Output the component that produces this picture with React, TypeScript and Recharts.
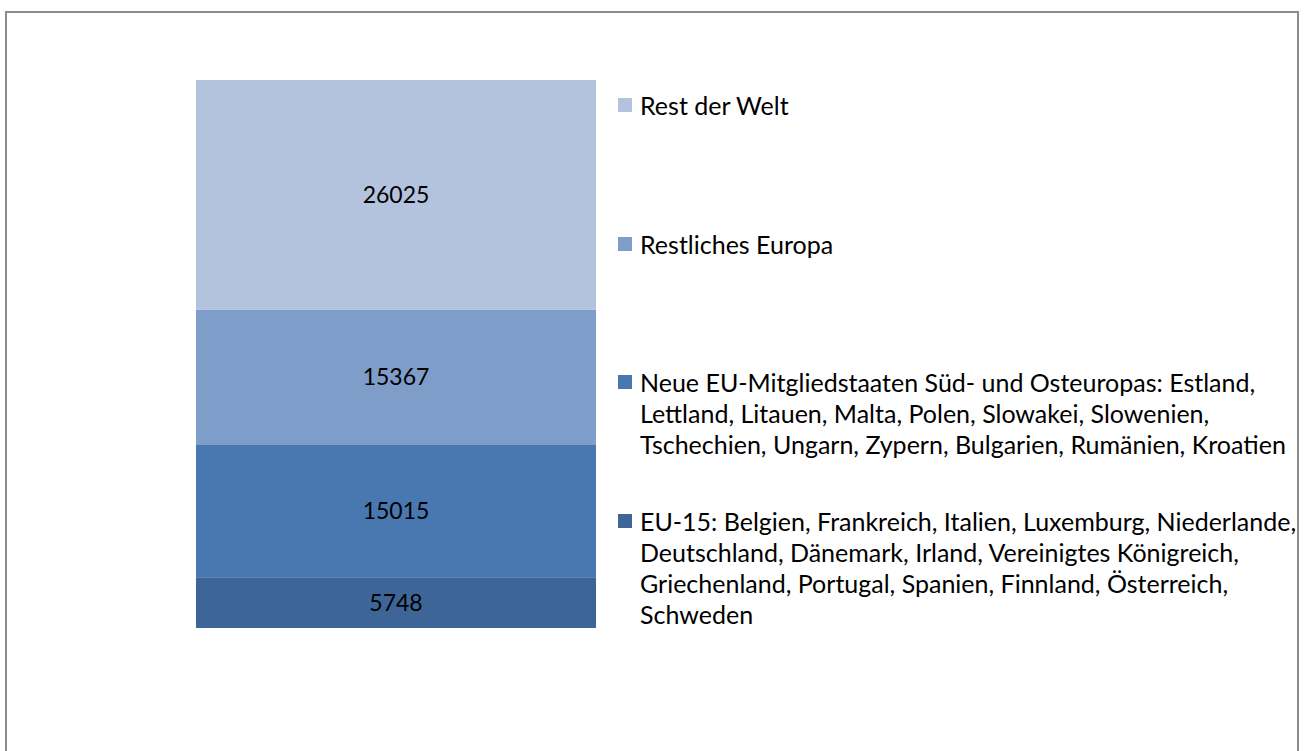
import { BarChart, Bar, XAxis, YAxis, LabelList } from 'recharts';

const category = ['Herkunft'];
const seriesNames = [
  'EU-15: Belgien, Frankreich, Italien, Luxemburg, Niederlande, Deutschland, Dänemark, Irland, Vereinigtes Königreich, Griechenland, Portugal, Spanien, Finnland, Österreich, Schweden',
  'Neue EU-Mitgliedstaaten Süd- und Osteuropas: Estland, Lettland, Litauen, Malta, Polen, Slowakei, Slowenien, Tschechien, Ungarn, Zypern, Bulgarien, Rumänien, Kroatien',
  'Restliches Europa',
  'Rest der Welt',
];
// legend text as it wraps in the original
const legendLines = [
  ['EU-15: Belgien, Frankreich, Italien, Luxemburg, Niederlande,', 'Deutschland, Dänemark, Irland, Vereinigtes Königreich,', 'Griechenland, Portugal, Spanien, Finnland, Österreich,', 'Schweden'],
  ['Neue EU-Mitgliedstaaten Süd- und Osteuropas: Estland,', 'Lettland, Litauen, Malta, Polen, Slowakei, Slowenien,', 'Tschechien, Ungarn, Zypern, Bulgarien, Rumänien, Kroatien'],
  ['Restliches Europa'],
  ['Rest der Welt'],
];
const values = [5748, 15015, 15367, 26025];
const colors = ['#3D6597', '#4977B0', '#7F9DC9', '#B4C3DD'];

const keys = ['s0', 's1', 's2', 's3'];
const data = category.map((c) => {
  const row: Record<string, any> = { name: c };
  keys.forEach((k, i) => (row[k] = values[i]));
  return row;
});
const total = values.reduce((a, b) => a + b, 0);

const FONT = 'Lato, "Open Sans", sans-serif';

function LegendBox() {
  // top entry first, like the original
  const order = [3, 2, 1, 0];
  return (
    <div style={{ position: 'absolute', left: 618, top: 90, fontFamily: FONT, fontSize: 25, color: '#000' }}>
      {order.map((i) => (
        <div key={i} style={{ height: 138.7, position: 'relative' }}>
          <div
            style={{
              position: 'absolute', left: 0, top: 8, width: 14, height: 14,
              background: colors[i],
            }}
          />
          <div style={{ position: 'absolute', left: 22, top: 0, lineHeight: '31px', whiteSpace: 'nowrap' }}>
            {legendLines[i].map((l, j) => (
              <div key={j}>{l}</div>
            ))}
          </div>
        </div>
      ))}
    </div>
  );
}

export default function App() {
  return (
    <div style={{ position: 'absolute', left: 0, top: 0, width: 1304, height: 751, overflow: 'hidden', background: '#fff' }}>
      <style>{'body{margin:0}'}</style>
      <div
        style={{
          position: 'absolute', left: 5, top: 11, width: 1290, height: 800,
          border: '2px solid #8c8c8c',
        }}
      />
      <div style={{ position: 'absolute', left: 0, top: 0 }}>
        <BarChart
          width={1304}
          height={751}
          data={data}
          margin={{ top: 80, bottom: 123, left: 196, right: 708 }}
          barCategoryGap={0}
        >
          <XAxis dataKey="name" hide />
          <YAxis hide domain={[0, total]} />
          {keys.map((k, i) => (
            <Bar key={k} dataKey={k} stackId="a" fill={colors[i]} name={seriesNames[i]} isAnimationActive={false}>
              <LabelList
                dataKey={k}
                position="center"
                fill="#000"
                style={{ fontFamily: FONT, fontSize: 23 }}
              />
            </Bar>
          ))}
        </BarChart>
      </div>
      <LegendBox />
    </div>
  );
}
